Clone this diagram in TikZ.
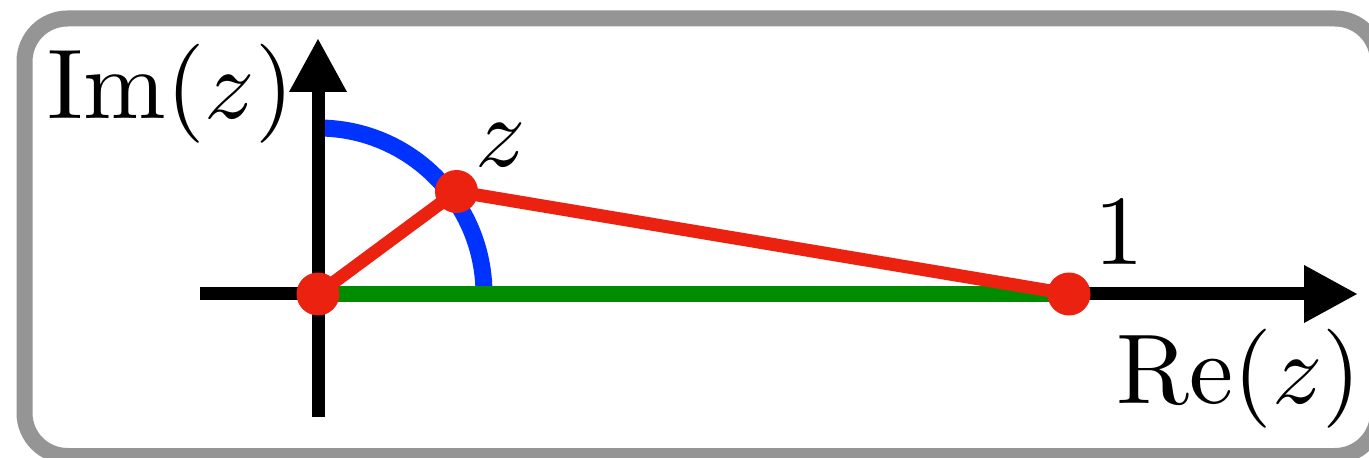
\documentclass[tikz,border=0pt]{standalone}
\usetikzlibrary{arrows.meta}
\definecolor{boxgray}{RGB}{149,149,149}
\definecolor{arcblue}{RGB}{0,51,255}
\definecolor{segred}{RGB}{236,34,16}
\definecolor{seggreen}{RGB}{0,140,0}
\tikzset{
  axis/.style={line width=13bp, black, -{Triangle[length=54bp,width=54bp]}},
  arcline/.style={line width=17bp, arcblue},
  greenline/.style={line width=16bp, seggreen},
  redline/.style={line width=13bp, segred},
  dot/.style={circle, fill=segred, minimum size=43bp, inner sep=0pt},
  lbl/.style={inner sep=0pt, scale=9.95},
  frame/.style={line width=16bp, boxgray, rounded corners=43bp}
}
\begin{document}
\begin{tikzpicture}[x=1bp,y=-1bp]
\path[use as bounding box, clip] (0,0) rectangle (1369,458);
\fill[white] (0,0) rectangle (1369,458);
\draw[frame] (24.5,18.5) rectangle (1378,456);
% coordinates
\coordinate (O) at (318,294);
\coordinate (xl) at (200,294);
\coordinate (xr) at (1358,294);
\coordinate (yb) at (318,417);
\coordinate (yt) at (318,38);
\coordinate (Z) at (456.5,191.5);
\coordinate (One) at (1069,294);
% blue arc
\draw[arcline] (318,128) arc[start angle=-90, end angle=0, radius=166];
% axes
\draw[axis] (xl) -- (xr);
\draw[axis] (yb) -- (yt);
% green segment
\draw[greenline] (O) -- (One);
% red segments
\draw[redline] (O) -- (Z) -- (One);
% dots
\node[dot] (dO) at (O) {};
\node[dot] (dZ) at (Z) {};
\node[dot] (d1) at (One) {};
% labels
\node[lbl, anchor=base west] (imlbl) at (46,119) {$\mathrm{Im}(z)$};
\node[lbl, anchor=base east] (relbl) at (1363,403) {$\mathrm{Re}(z)$};
\node[lbl, anchor=base west] (zlbl) at (474,167) {$z$};
\node[lbl, anchor=base] (onelbl) at (1119,265) {$1$};
\end{tikzpicture}
\end{document}
